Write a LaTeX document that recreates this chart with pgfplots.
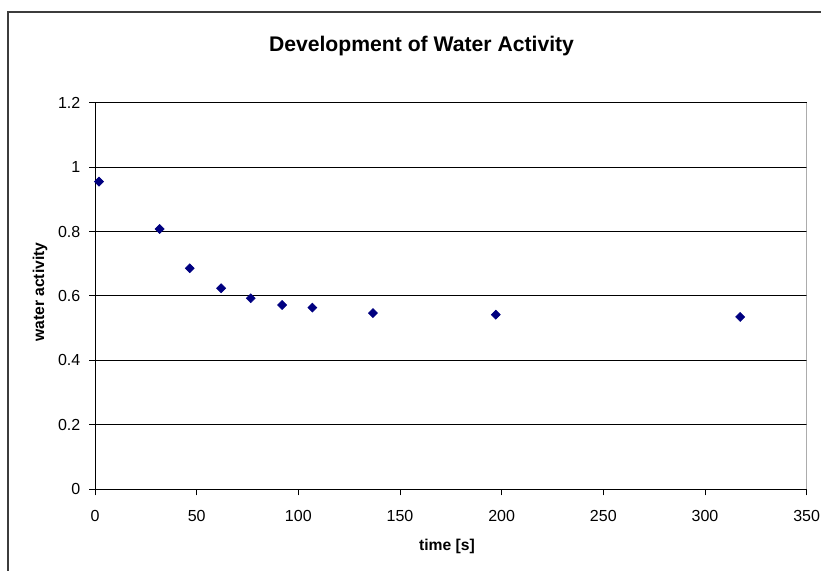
\documentclass[border=0pt]{standalone}
\usepackage{fontspec}
\setmainfont{Liberation Sans}
\usepackage{pgfplots}
\pgfplotsset{compat=1.18}
\definecolor{navymark}{RGB}{0,0,128}
\definecolor{chartframe}{RGB}{60,60,60}
\begin{document}
\begin{tikzpicture}
% page = 821 x 571 px at 0.6pt per px
\path[use as bounding box] (0,0) rectangle (492.6pt,342.6pt);
\draw[chartframe, line width=0.7pt] (4.8pt,0) -- (4.8pt,335.4pt) -- (492.6pt,335.4pt);
\begin{axis}[
  at={(57pt,49.02pt)}, anchor=south west,
  scale only axis, width=427pt, height=231.96pt,
  xmin=0, xmax=350, ymin=0, ymax=1.2,
  xtick={0,50,100,150,200,250,300,350},
  ytick={0,0.2,0.4,0.6,0.8,1,1.2},
  axis x line*=bottom, axis y line*=left,
  axis line style={-, black, line width=0.6pt},
  tick align=outside, major tick length=3.6pt,
  tick style={black, line width=0.6pt},
  ymajorgrids, grid style={black, line width=0.6pt},
  /pgf/number format/assume math mode=true,
  ticklabel style={font=\fontsize{9.6}{11}\selectfont, inner sep=0pt},
  xticklabel style={anchor=north, yshift=-9pt},
  yticklabel style={anchor=east, xshift=-5pt},
  title={Development of Water Activity},
  title style={at={(axis description cs:0.4588,1.106)}, anchor=base, font=\bfseries\fontsize{12.7}{15}\selectfont},
  xlabel={time [s]},
  xlabel style={at={(axis description cs:0.4946,-0.158)}, anchor=base, font=\bfseries\fontsize{9.4}{11}\selectfont},
  ylabel={water activity},
  ylabel style={at={(axis description cs:-0.0715,0.51)}, anchor=base, font=\bfseries\fontsize{9.4}{11}\selectfont},
]
\addplot[only marks, mark=square*, mark size=1.9pt, mark options={rotate=45, fill=navymark, draw=navymark}]
coordinates {(2,0.955)(31.8,0.808)(46.6,0.686)(62,0.624)(76.6,0.593)(92,0.572)(106.9,0.564)(136.7,0.547)(197.1,0.542)(317.3,0.535)};
\draw[gray, line width=0.6pt] (rel axis cs:1,0) -- (rel axis cs:1,1);
\end{axis}
\end{tikzpicture}
\end{document}
